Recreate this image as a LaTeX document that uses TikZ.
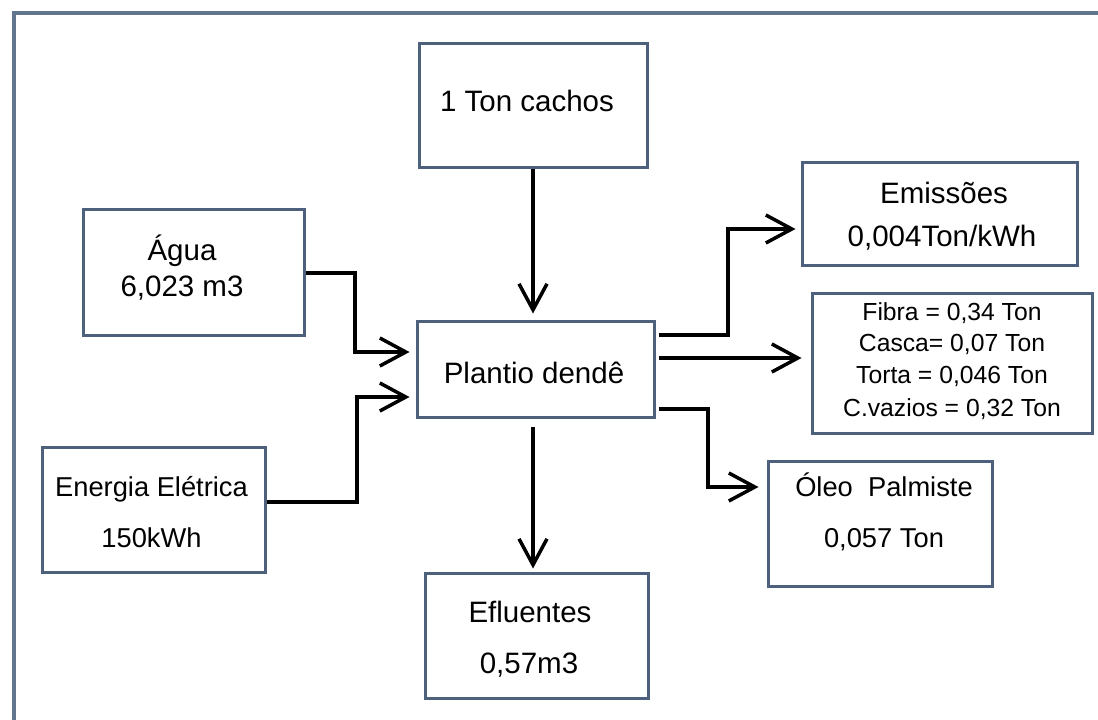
\documentclass[tikz,border=0pt]{standalone}
\usepackage{fontspec}
\setmainfont{Liberation Sans}
\usetikzlibrary{arrows.meta}

\definecolor{boxline}{RGB}{78,97,124}
\definecolor{frameline}{RGB}{98,117,142}

\begin{document}
\begin{tikzpicture}[x=1pt,y=-1pt,
  box/.style={draw=boxline, line width=3pt, inner sep=0pt, fill=white},
  txt/.style={anchor=base, inner sep=0pt, font=\fontsize{29.5}{34}\selectfont},
  txtm/.style={txt, font=\fontsize{27.3}{32}\selectfont},
  txts/.style={txt, font=\fontsize{24.7}{29}\selectfont},
  flow/.style={draw=black, line width=3.5pt, line join=miter,
    -{Straight Barb[length=26pt,width=28pt]}},
  frameline/.style={draw=frameline, line width=4pt}
]
% canvas and outer frame
\fill[white] (0,0) rectangle (1098,720);
\useasboundingbox (0,0) rectangle (1098,720);
\draw[frameline] (14,722) -- (14,13) -- (1100,13);

% boxes
\node[box, minimum width=228pt, minimum height=124pt] (cachos)   at (533,105)   {};
\node[box, minimum width=237pt, minimum height=96pt]  (plantio)  at (535.5,369) {};
\node[box, minimum width=221pt, minimum height=126pt] (agua)     at (193.5,272) {};
\node[box, minimum width=223pt, minimum height=125pt] (energia)  at (153.5,509.5) {};
\node[box, minimum width=275pt, minimum height=103pt] (emissoes) at (939.5,213.5) {};
\node[box, minimum width=280pt, minimum height=140pt] (fibra)    at (952,363)   {};
\node[box, minimum width=224pt, minimum height=125pt] (oleo)     at (880,523.5) {};
\node[box, minimum width=223pt, minimum height=125pt] (efluentes) at (536.5,635.5) {};

% texts
\node[txt]  (cachos-t)   at (527,111) {1 Ton cachos};
\node[txt]  (plantio-t)  at (534,383) {Plantio dendê};
\node[txt]  (agua-t1)    at (182,260) {Água};
\node[txt]  (agua-t2)    at (182,296) {6,023 m3};
\node[txtm] (energia-t1) at (151.5,496) {Energia Elétrica};
\node[txtm] (energia-t2) at (151.5,547) {150kWh};
\node[txt]  (emissoes-t1) at (944,203) {Emissões};
\node[txt]  (emissoes-t2) at (942,246) {0,004Ton/kWh};
\node[txts] (fibra-t1)   at (952,320) {Fibra = 0,34 Ton};
\node[txts] (fibra-t2)   at (952,351) {Casca= 0,07 Ton};
\node[txts] (fibra-t3)   at (952,383) {Torta = 0,046 Ton};
\node[txts] (fibra-t4)   at (952,416) {C.vazios = 0,32 Ton};
\node[txtm] (oleo-t1)    at (884,496) {Óleo\ \ Palmiste};
\node[txtm] (oleo-t2)    at (884,547) {0,057 Ton};
\node[txt]  (efluentes-t1) at (530,622) {Efluentes};
\node[txt]  (efluentes-t2) at (529,673) {0,57m3};

% bend points of the connectors
\coordinate (aguabend)    at (355,352);
\coordinate (energiabend) at (357,397);
\coordinate (emisbend)    at (728,229);
\coordinate (oleobend)    at (708,487);

% inputs
\draw[flow, shorten >=6pt] (cachos.south -| 533,0) -- (plantio.north -| 533,0);
\draw[flow, shorten >=6pt] (agua.east |- 0,273) -| (aguabend) -- (plantio.west |- aguabend);
\draw[flow, shorten >=6pt] (energia.east |- 0,502) -| (energiabend) -- (plantio.west |- energiabend);

% outputs
\draw[flow, shorten <=3pt, shorten >=5pt] (plantio.east |- 0,335) -| (emisbend) -- (emissoes.west |- emisbend);
\draw[flow, shorten <=3pt, shorten >=9pt] (plantio.east |- 0,358) -- (fibra.west |- 0,358);
\draw[flow, shorten <=3pt, shorten >=8pt] (plantio.east |- 0,409) -| (oleobend) -- (oleo.west |- oleobend);
\draw[flow, shorten <=8pt, shorten >=3pt] (plantio.south -| 533,0) -- (efluentes.north -| 533,0);
\end{tikzpicture}
\end{document}
